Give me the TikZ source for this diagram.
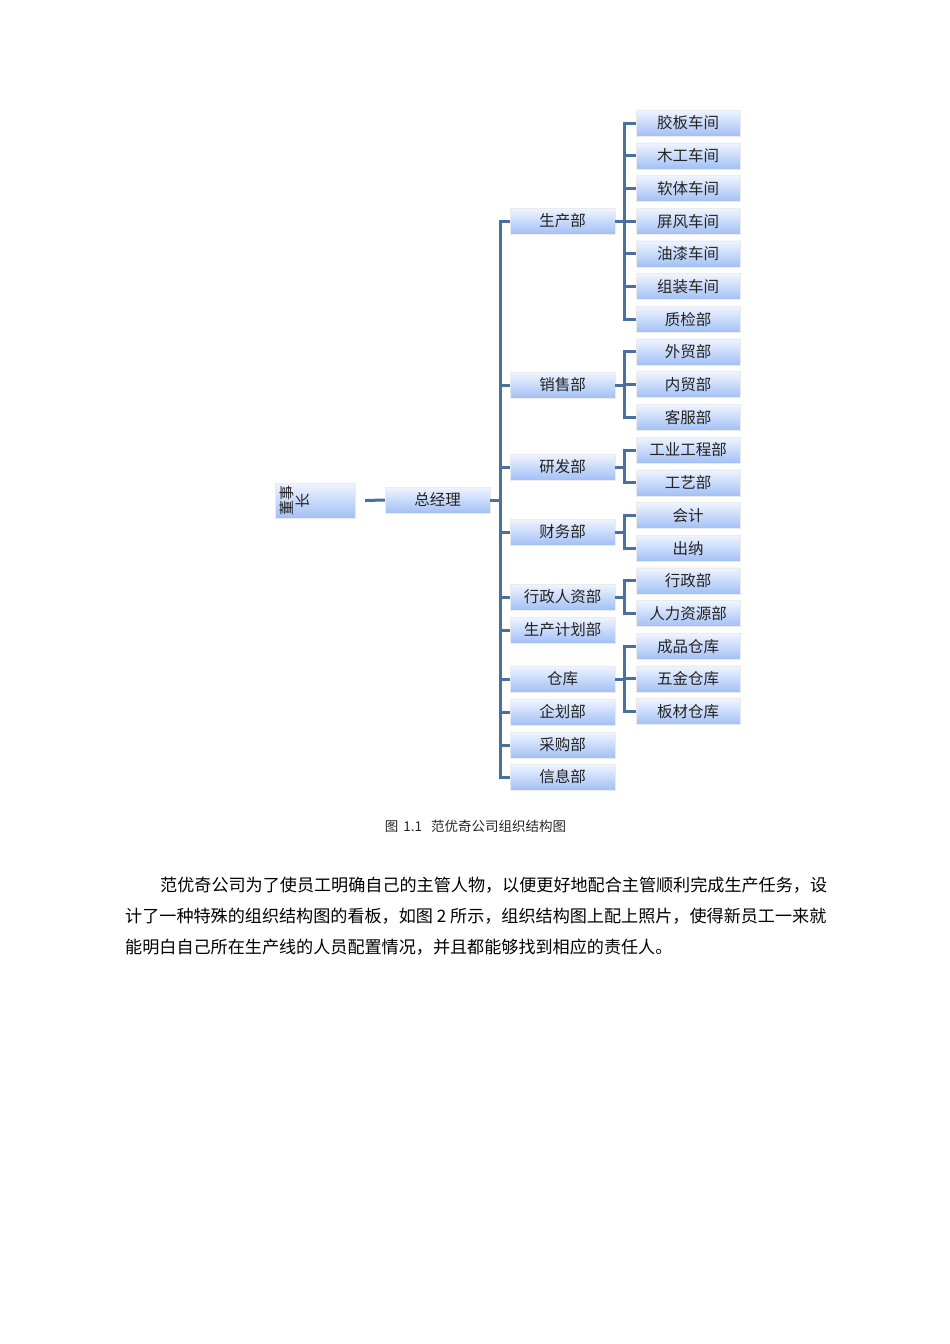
\documentclass[tikz,border=0pt]{standalone}
\usepackage{fontspec}
\setmainfont{Noto Sans CJK SC}
\definecolor{linkblue}{RGB}{74,112,160}
\definecolor{boxtop}{RGB}{240,245,255}
\definecolor{boxbot}{RGB}{162,192,245}
\definecolor{boxtext}{RGB}{35,35,35}
\tikzset{
  unit/.style={shading=axis,top color=boxtop,bottom color=boxbot,draw=black!8,
    inner sep=0pt,minimum height=26pt,text=boxtext,font=\fontsize{15.5}{17}\selectfont},
  dept/.style={unit,minimum width=105pt},
  sub/.style={unit,minimum width=104pt},
  link/.style={draw=linkblue,line width=3pt},
  para/.style={anchor=west,inner sep=0pt,font=\fontsize{17.1}{19}\selectfont}
}
\begin{document}
\begin{tikzpicture}[x=1pt,y=-1pt]
\useasboundingbox (0,0) rectangle (950,1344);

% top of the tree
\node [unit,minimum width=80pt,minimum height=35pt] (dsz) at (315,500.5) {};
\node [rotate=90,align=center,text=boxtext,inner sep=0pt,font=\fontsize{15}{16}\selectfont] (dszt) at (295,500.5) {董事\\长};
\node [dept] (zjl) at (437.5,500) {总经理};

% departments
\foreach \t/\y [count=\i] in {生产部/221,销售部/385,研发部/467,财务部/532,行政人资部/597,
  生产计划部/630,仓库/679,企划部/712,采购部/745,信息部/777}
  \node [dept] (d\i) at (562.5,\y) {\t};

% workshops and sections
\foreach \t [count=\i] in {胶板车间,木工车间,软体车间,屏风车间,油漆车间,组装车间,质检部,
  外贸部,内贸部,客服部,工业工程部,工艺部,会计,出纳,行政部,人力资源部,成品仓库,五金仓库,板材仓库}
  \node [sub] (c\i) at (688,90.3+32.7*\i) {\t};

% connectors
\draw [link] ([xshift=10pt]dsz.east) -- (zjl.west) ;
\foreach \i in {1,...,10}
  \draw [link] (zjl.east) -- ++(10,0) |- (d\i.west) ;
\foreach \p/\a/\b in {1/1/7,2/8/10,3/11/12,4/13/14,5/15/16,7/17/19}
  \foreach \k in {\a,...,\b}
    \draw [link] (d\p.east) -- ++(9,0) |- (c\k.west) ;

% caption and text
\node [font=\fontsize{13.5}{15}\selectfont,text=black!85] (cap) at (475.5,826)
  {图\hspace{5pt}1.1\hspace{9pt}范优奇公司组织结构图};
\node [para] (p1) at (160,885)
  {范优奇公司为了使员工明确自己的主管人物，以便更好地配合主管顺利完成生产任务，设};
\node [para] (p2) at (125,916)
  {计了一种特殊的组织结构图的看板，如图 2 所示，组织结构图上配上照片，使得新员工一来就};
\node [para] (p3) at (125,947)
  {能明白自己所在生产线的人员配置情况，并且都能够找到相应的责任人。};

\end{tikzpicture}
\end{document}
